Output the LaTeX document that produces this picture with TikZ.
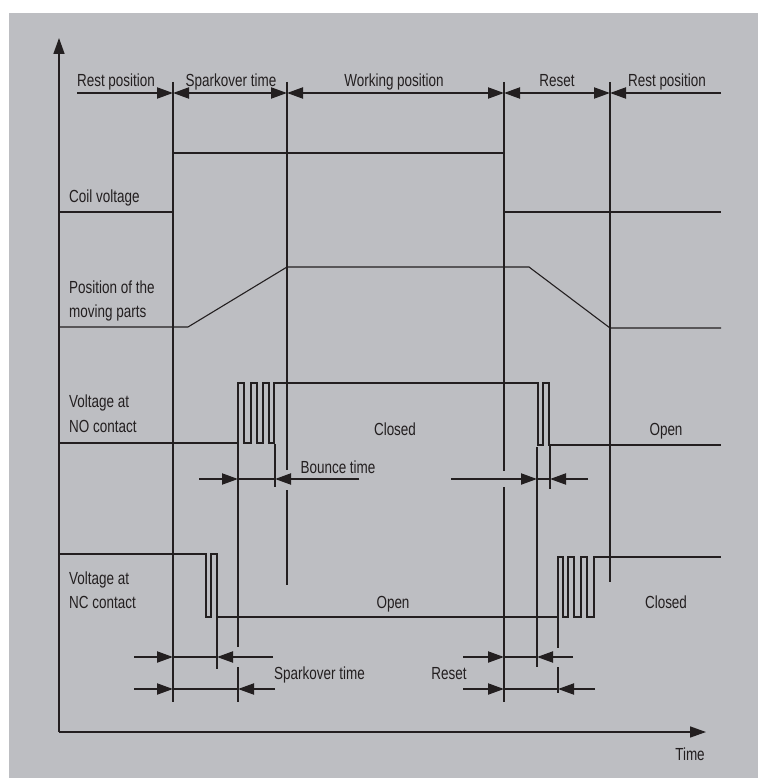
\documentclass[tikz,border=0pt]{standalone}
\usepackage{fontspec}
\setmainfont[FakeStretch=0.77]{Liberation Sans}
\usepackage{xcolor}
\usepackage{tikz}
\usetikzlibrary{arrows.meta}
\definecolor{panel}{HTML}{BDBEC2}
\definecolor{ink}{HTML}{231F20}

\begin{document}
\begin{tikzpicture}[x=1pt,y=-1pt,
      thk/.style={draw=ink,line width=2pt},
      sig/.style={draw=ink,line width=1.1pt},
      tip/.style={-{Triangle[length=16pt,width=11pt]}},
      dim/.style={thk,tip},
      ddim/.style={thk,{Triangle[length=16pt,width=11pt]}-{Triangle[length=16pt,width=11pt]}},
      lbl/.style={anchor=base,inner sep=0pt,text=ink,font=\fontsize{17.5}{20}\selectfont},
      lbll/.style={lbl,anchor=base west}]
    \useasboundingbox (0,0) rectangle (758,778);
    \fill[panel] (9,13) rectangle (758,778);
    % axes
    \draw[line width=1.5pt,draw=ink,tip] (59,732) -- (59,38);
    \draw[line width=1.5pt,draw=ink,tip] (59,732) -- (706,732);
    \node[lbl] (time) at (690,760) {Time};
    % phase markers
    \draw[thk] (173,82) -- (173,702);
    \draw[thk] (287,82) -- (287,470) (287,490) -- (287,585);
    \draw[thk] (504,82) -- (504,471) (504,487) -- (504,702);
    \draw[thk] (610,82) -- (610,582);
    % phases
    \draw[dim] (77,93) -- (173,93);
    \draw[ddim] (173,93) -- (287,93);
    \draw[ddim] (287,93) -- (504,93);
    \draw[ddim] (504,93) -- (610,93);
    \draw[dim] (721,93) -- (610,93);
    \node[lbl] (rest1) at (116,87) {Rest position};
    \node[lbl] (spark1) at (231,87) {Sparkover time};
    \node[lbl] (work) at (394,87) {Working position};
    \node[lbl] (reset1) at (557,87) {Reset};
    \node[lbl] (rest2) at (667,87) {Rest position};
    % coil voltage
    \draw[thk] (59,212) -- (173,212) -- (173,153) -- (504,153) -- (504,212) -- (721,212);
    \node[lbll] (coil) at (69,202) {Coil voltage};
    % moving parts
    \draw[sig] (59,327) -- (188,327) -- (287,267) -- (529,267) -- (610,328) -- (721,328);
    \node[lbll] (pos1) at (69,293) {Position of the};
    \node[lbll] (pos2) at (69,317) {moving parts};
    % NO contact
    \draw[sig] (59,443) -- (238,443) -- (238,383) -- (244,383) -- (244,443) -- (251,443)
      -- (251,383) -- (257,383) -- (257,443) -- (263,443) -- (263,383) -- (269,383)
      -- (269,443) -- (274,443) -- (274,383) -- (538,383) -- (538,445) -- (543,445)
      -- (543,383) -- (549,383) -- (549,445) -- (721,445);
    \node[lbll] (no1) at (69,407) {Voltage at};
    \node[lbll] (no2) at (69,432) {NO contact};
    \node[lbl] (noclosed) at (395,435) {Closed};
    \node[lbl] (noopen) at (666,435) {Open};
    % NC contact
    \draw[sig] (59,554) -- (206,554) -- (206,617) -- (211,617) -- (211,554) -- (217,554)
      -- (217,617) -- (558,617) -- (558,557) -- (563,557) -- (563,617) -- (568,617)
      -- (568,557) -- (574,557) -- (574,617) -- (581,617) -- (581,557) -- (587,557)
      -- (587,617) -- (594,617) -- (594,557) -- (721,557);
    \node[lbll] (nc1) at (69,584) {Voltage at};
    \node[lbll] (nc2) at (69,608) {NC contact};
    \node[lbl] (ncopen) at (393,608) {Open};
    \node[lbl] (ncclosed) at (666,608) {Closed};
    % extension lines
    \draw[thk] (238,443) -- (238,647) (238,667) -- (238,702);
    \draw[thk] (275,444) -- (275,487);
    \draw[thk] (537,447) -- (537,667);
    \draw[thk] (550,446) -- (550,489);
    \draw[thk] (217,617) -- (217,669);
    \draw[thk] (558,617) -- (558,648) (558,667) -- (558,693);
    % dimensions: start / inner left / inner right / end / height
    \foreach \xs/\xa/\xb/\xe/\yy in {199/238/275/359/479, 451/537/550/588/479,
        134/173/217/273/657, 134/173/238/275/689, 463/504/537/573/657, 463/504/558/595/689} {
      \draw[dim] (\xs,\yy) -- (\xa,\yy);
      \draw[thk] (\xa,\yy) -- (\xb,\yy);
      \draw[dim] (\xe,\yy) -- (\xb,\yy);
    }
    \node[lbl] (bounce) at (338,473) {Bounce time};
    \node[lbll] (spark2) at (274,679) {Sparkover time};
    \node[lbl] (reset2) at (449,679) {Reset};
  \end{tikzpicture}
\end{document}
